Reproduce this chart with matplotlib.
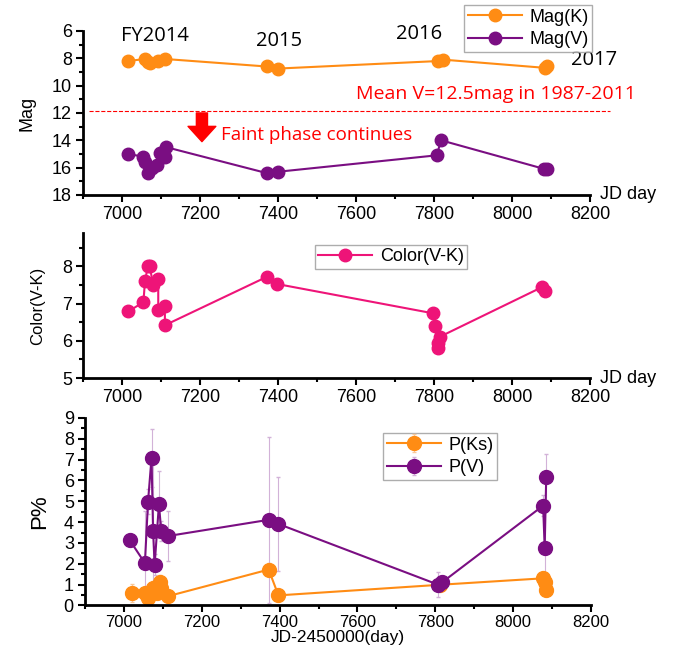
import matplotlib.pyplot as plt
from matplotlib.ticker import MultipleLocator

plt.rcParams['font.family'] = ['Liberation Sans', 'DejaVu Sans']

# --- data ---
jd_k = [7016, 7059, 7067, 7072, 7093, 7110, 7371, 7401, 7811, 7824, 8085, 8089]
mag_k = [8.2, 8.05, 8.3, 8.35, 8.2, 8.05, 8.6, 8.75, 8.2, 8.1, 8.7, 8.6]
jd_v = [7016, 7055, 7059, 7067, 7076, 7089, 7097, 7110, 7113, 7371, 7401, 7807, 7818, 8083, 8089]
mag_v = [15.0, 15.2, 15.6, 16.4, 16.0, 15.8, 14.9, 15.2, 14.5, 16.4, 16.3, 15.1, 14.0, 16.1, 16.1]

jd_c = [7016, 7055, 7059, 7067, 7071, 7080, 7093, 7093, 7110, 7110, 7371, 7397,
        7798, 7803, 7811, 7811, 7815, 8076, 8085]
color_vk = [6.79, 7.04, 7.62, 8.02, 8.02, 7.49, 7.66, 6.82, 6.95, 6.42, 7.72, 7.53,
            6.74, 6.39, 5.80, 5.93, 6.11, 7.44, 7.34]

jd_pk = [7020, 7055, 7061, 7074, 7085, 7092, 7096, 7113, 7372, 7397, 7812, 8077, 8081, 8085]
p_ks = [0.59, 0.6, 0.36, 0.85, 0.6, 1.14, 0.85, 0.44, 1.72, 0.48, 0.99, 1.3, 1.1, 0.75]
p_ks_err = [0.45, 0.3, 0.3, 0.3, 0.3, 0.3, 0.3, 0.2, 0.3, 0.2, 0.2, 0.3, 0.3, 0.3]
jd_pv = [7015, 7054, 7062, 7071, 7075, 7079, 7090, 7096, 7113, 7372, 7397, 7808, 7817, 8077, 8081, 8085]
p_v = [3.13, 2.03, 4.98, 7.09, 3.57, 1.95, 4.85, 3.57, 3.33, 4.11, 3.91, 0.99, 1.1, 4.79, 2.78, 6.18]
p_v_err = [0.3, 2.5, 0.6, 1.4, 3.2, 0.5, 1.6, 0.5, 1.2, 4.0, 2.25, 0.6, 0.3, 0.5, 1.8, 1.1]

ORANGE = '#FF8C14'
PURPLE = '#7A0E82'
PINK = '#EE1478'
FS = 13

fig = plt.figure(figsize=(6.88, 6.52), dpi=100)
ax1 = fig.add_axes([0.1206, 0.701, 0.737, 0.2515])
ax2 = fig.add_axes([0.1206, 0.4202, 0.737, 0.2224])
ax3 = fig.add_axes([0.1235, 0.0715, 0.7355, 0.2874])


def style(ax):
    for s in ['top', 'right']:
        ax.spines[s].set_visible(False)
    for s in ['left', 'bottom']:
        ax.spines[s].set_linewidth(2)
    ax.set_xlim(6900, 8200)
    ax.xaxis.set_major_locator(MultipleLocator(200))
    ax.xaxis.set_minor_locator(MultipleLocator(100))
    ax.tick_params(which='major', direction='out', length=5, width=1.5, labelsize=FS, pad=3)
    ax.tick_params(which='minor', direction='out', length=3, width=1.5)


leg_kw = dict(fontsize=FS, fancybox=False, edgecolor='#999999', borderpad=0.2,
              handlelength=3.0, labelspacing=0.3, handletextpad=0.4, borderaxespad=0)

# --- top panel: magnitudes ---
style(ax1)
ax1.plot(jd_k, mag_k, '-o', color=ORANGE, ms=9, lw=1.5, label='Mag(K)')
ax1.plot(jd_v, mag_v, '-o', color=PURPLE, ms=9, lw=1.5, label='Mag(V)')
ax1.set_ylim(18, 6)
ax1.yaxis.set_major_locator(MultipleLocator(2))
ax1.yaxis.set_minor_locator(MultipleLocator(1))
ax1.set_ylabel('Mag', fontsize=FS, labelpad=12)
ax1.plot([6915, 8250], [11.83, 11.83], '--', color='red', lw=0.8, clip_on=False)
ax1.text(8318, 11.25, 'Mean V=12.5mag in 1987-2011', color='red', fontsize=14,
         family='Open Sans', ha='right', va='bottom')
ax1.annotate('', xy=(7205, 14.1), xytext=(7205, 12.0),
             arrowprops=dict(facecolor='red', edgecolor='red', width=8, headwidth=20, headlength=11))
ax1.text(7255, 13.6, 'Faint phase continues', color='red', fontsize=13.5,
         family='Open Sans', va='center')
for lab, x, y in [('FY2014', 7085, 6.4), ('2015', 7403, 6.75), ('2016', 7761, 6.2), ('2017', 8210, 8.1)]:
    ax1.text(x, y, lab, fontsize=14.5, family='Open Sans', ha='center', va='center',
             clip_on=False)
ax1.text(8225, 18, 'JD day', fontsize=FS, va='center', ha='left', clip_on=False)
ax1.legend(loc='upper right', bbox_to_anchor=(1.004, 1.158), **leg_kw)

# --- middle panel: colour ---
style(ax2)
ax2.plot(jd_c, color_vk, '-o', color=PINK, ms=9, lw=1.5, label='Color(V-K)')
ax2.set_ylim(5, 8.9)
ax2.yaxis.set_major_locator(MultipleLocator(1))
ax2.yaxis.set_minor_locator(MultipleLocator(0.5))
ax2.set_ylabel('Color(V-K)', fontsize=FS - 1, labelpad=12)
ax2.text(8225, 5, 'JD day', fontsize=FS, va='center', ha='left', clip_on=False)
ax2.legend(loc='upper left', bbox_to_anchor=(0.457, 0.92), **leg_kw)

# --- bottom panel: polarisation ---
style(ax3)
ax3.tick_params(axis='x', which='major', pad=2, labelsize=12)
ax3.errorbar(jd_pk, p_ks, yerr=p_ks_err, fmt='-o', color=ORANGE, ecolor='#F8C89A',
             elinewidth=0.8, capsize=1.5, ms=10, lw=1.5, label='P(Ks)')
ax3.errorbar(jd_pv, p_v, yerr=p_v_err, fmt='-o', color=PURPLE, ecolor='#D2B2D8',
             elinewidth=0.8, capsize=1.5, ms=10, lw=1.5, label='P(V)')
ax3.set_ylim(0, 9)
ax3.yaxis.set_major_locator(MultipleLocator(1))
ax3.yaxis.set_minor_locator(MultipleLocator(0.5))
ax3.set_ylabel('P%', fontsize=16, labelpad=10)
ax3.set_xlabel('JD-2450000(day)', fontsize=12.5, labelpad=0)
ax3.legend(loc='upper left', bbox_to_anchor=(0.589, 0.92), **leg_kw)

plt.savefig('out.png', dpi=100)
